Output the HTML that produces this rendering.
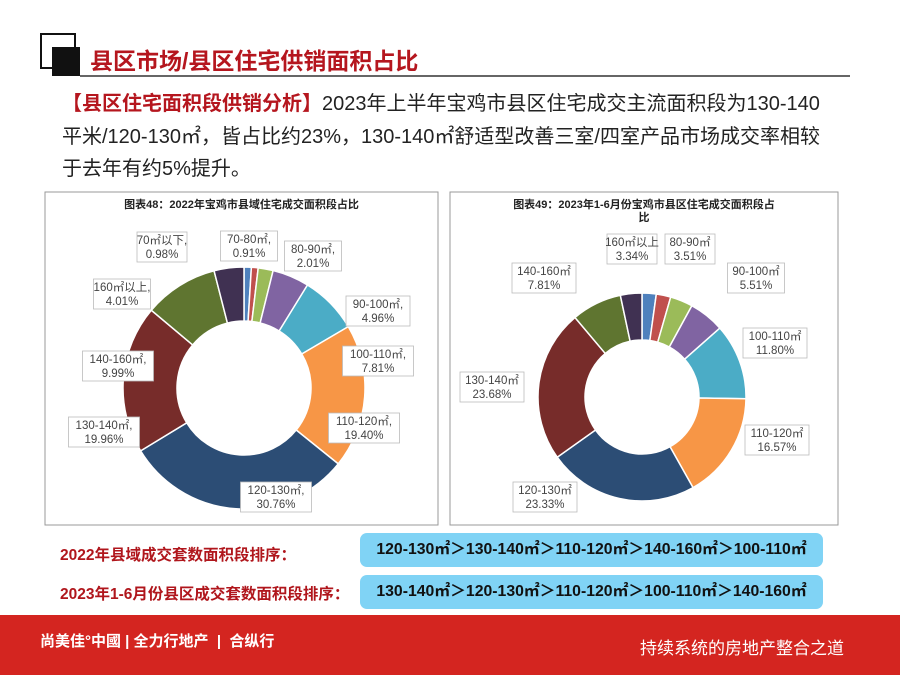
<!DOCTYPE html>
<html><head><meta charset="utf-8">
<style>
body{margin:0;width:900px;height:675px;position:relative;background:#fff;font-family:"Liberation Sans","Noto Sans CJK SC",sans-serif;overflow:hidden}
.abs{position:absolute}
.p{font-size:20px;color:#222;left:62px;white-space:nowrap}
.rk{font-size:15.5px;font-weight:bold;color:#b0161c;left:60px}
.box{left:360px;width:463px;height:34px;background:#80d3f5;border-radius:7px;font-size:15.8px;font-weight:bold;color:#111;line-height:34px;text-align:center}
</style></head><body>
<div class="abs" style="left:40px;top:33px;width:32px;height:32px;border:2px solid #111"></div>
<div class="abs" style="left:52px;top:47px;width:28px;height:29px;background:#111"></div>
<div class="abs" style="left:90px;top:42px;font-size:23px;font-weight:bold;color:#b5161e">县区市场/县区住宅供销面积占比</div>
<div class="abs" style="left:80px;top:75px;width:770px;height:2px;background:#666"></div>
<div class="abs p" style="top:87px"><b style="color:#b5161e">【县区住宅面积段供销分析】</b>2023年上半年宝鸡市县区住宅成交主流面积段为130-140</div>
<div class="abs p" style="top:120px">平米/120-130㎡，皆占比约23%，130-140㎡舒适型改善三室/四室产品市场成交率相较</div>
<div class="abs p" style="top:152px">于去年有约5%提升。</div>

<svg class="abs" style="left:0;top:0" width="900" height="675" id="charts"></svg>

<div class="abs rk" style="top:543px">2022年县域成交套数面积段排序：</div>
<div class="abs box" style="top:533px">120-130㎡＞130-140㎡＞110-120㎡＞140-160㎡＞100-110㎡</div>
<div class="abs rk" style="top:582px">2023年1-6月份县区成交套数面积段排序：</div>
<div class="abs box" style="top:575px">130-140㎡＞120-130㎡＞110-120㎡＞100-110㎡＞140-160㎡</div>

<div class="abs" style="left:0;top:615px;width:900px;height:60px;background:#d42520"></div>
<div class="abs" style="left:40px;top:630px;font-size:15px;color:#fff;font-weight:bold">尚美佳°中國 | 全力行地产 &nbsp;|&nbsp; 合纵行</div>
<div class="abs" style="left:640px;top:634px;font-size:17px;color:#fff">持续系统的房地产整合之道</div>

<script>
const colors=["#4f81bd","#c0504d","#9bbb59","#8064a2","#4bacc6","#f79646","#2c4d75","#772c2a","#5f7530","#403152"];
const cats1=["70㎡以下","70-80㎡","80-90㎡","90-100㎡","100-110㎡","110-120㎡","120-130㎡","130-140㎡","140-160㎡","160㎡以上"];
const vals1=[0.98,0.91,2.01,4.96,7.81,19.40,30.76,19.96,9.99,4.01];
const cats2=["70㎡以下","70-80㎡","80-90㎡","90-100㎡","100-110㎡","110-120㎡","120-130㎡","130-140㎡","140-160㎡","160㎡以上"];
const vals2=[2.2,2.25,3.51,5.51,11.80,16.57,23.33,23.68,7.81,3.34];
const svg=document.getElementById('charts');
const NS="http://www.w3.org/2000/svg";
function mk(t,a){const e=document.createElementNS(NS,t);for(const k in a)e.setAttribute(k,a[k]);svg.appendChild(e);return e;}
function frame(x,y,w,h,title,name){
 const r=mk('rect',{x:x,y:y,width:w,height:h,fill:'#fff',stroke:'#999','stroke-width':1});
 
 
 title.forEach((t,i)=>{const e=mk('text',{x:x+w/2,y:y+16+i*13,'text-anchor':'middle','font-size':11,'font-weight':'bold',fill:'#222'});e.textContent=t;
 
 });
}
function donut(cx,cy,R,r,vals,name){
 const tot=vals.reduce((a,b)=>a+b,0);let a0=-Math.PI/2;
 vals.forEach((v,i)=>{const a1=a0+v/tot*2*Math.PI;const lg=(a1-a0)>Math.PI?1:0;
  const p=(rr,a)=>[cx+rr*Math.cos(a),cy+rr*Math.sin(a)];
  const [x1,y1]=p(R,a0),[x2,y2]=p(R,a1),[x3,y3]=p(r,a1),[x4,y4]=p(r,a0);
  const e=mk('path',{d:`M${x1},${y1}A${R},${R} 0 ${lg} 1 ${x2},${y2}L${x3},${y3}A${r},${r} 0 ${lg} 0 ${x4},${y4}Z`,fill:colors[i],stroke:'#fff','stroke-width':1.5});
  
  
  a0=a1;});
}
function label(x,y,l1,l2,name){
 const w=Math.max(l1.length,l2.length)*7+8;
 const b=mk('rect',{x:x-w/2,y:y-12,width:w,height:30,fill:'#fff',stroke:'#bbb','stroke-width':0.8});
 
 
 [l1,l2].forEach((t,i)=>{const e=mk('text',{x:x,y:y+i*14,'text-anchor':'middle','font-size':11.5,fill:'#444'});e.textContent=t;
 
 });
}
frame(45,192,393,333,["图表48：2022年宝鸡市县域住宅成交面积段占比"],'chart-2022');
frame(450,192,388,333,["图表49：2023年1-6月份宝鸡市县区住宅成交面积段占","比"],'chart-2023');
donut(244,388,121,67,vals1,'chart-2022');
donut(642,397,104,57,vals2,'chart-2023');
const pos1=[[162,244],[249,243],[313,253],[378,308],[378,358],[364,425],[276,494],[104,429],[118,363],[122,291]];
cats1.forEach((c,i)=>label(pos1[i][0],pos1[i][1],c+",",vals1[i].toFixed(2)+"%",'chart-2022-'+i));
const pos2=[[null],[null],[690,246],[756,275],[775,340],[777,437],[545,494],[492,384],[544,275],[632,246]];
cats2.forEach((c,i)=>{if(i>1)label(pos2[i][0],pos2[i][1],c,vals2[i].toFixed(2)+"%",'chart-2023-'+i);});
</script>
</body></html>
